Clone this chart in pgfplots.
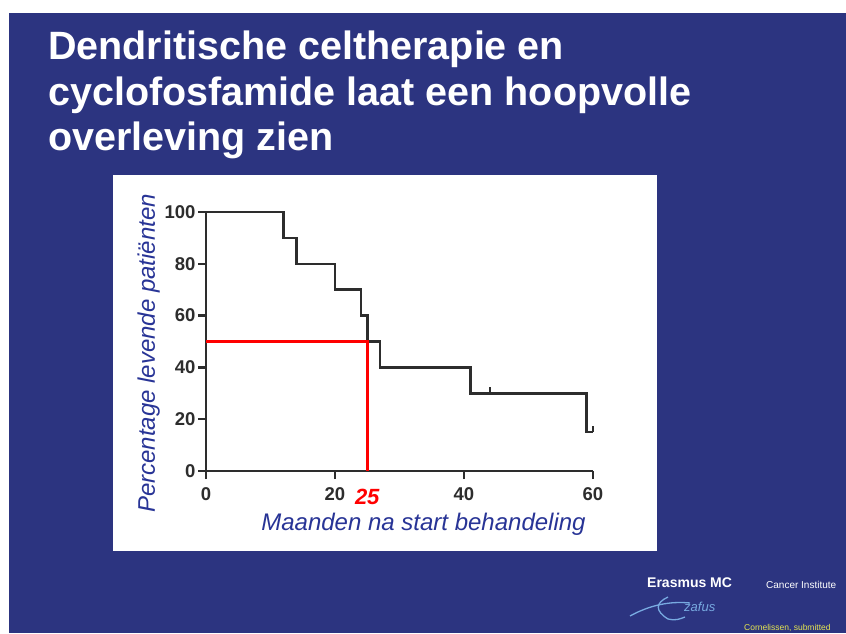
\documentclass[border=0pt]{standalone}
\usepackage{fontspec}
\setmainfont{Liberation Sans}
\usepackage{pgfplots}
\pgfplotsset{compat=1.18}
\definecolor{slideblue}{RGB}{44,52,128}
\definecolor{labelblue}{RGB}{40,52,150}
\definecolor{axgray}{RGB}{45,45,45}
\definecolor{logoblue}{RGB}{120,170,225}
\definecolor{noteyellow}{RGB}{230,230,80}
\begin{document}
\begin{tikzpicture}
\useasboundingbox (0pt,0pt) rectangle (846pt,633pt);
\fill[white] (0pt,0pt) rectangle (846pt,633pt);
\fill[slideblue] (9pt,0pt) rectangle (846pt,620pt);
\fill[white] (113pt,82pt) rectangle (657pt,458pt);
\begin{scope}[every node/.style={anchor=base west, inner sep=0pt, text=white, font=\bfseries\fontsize{39.5}{40}\selectfont}]
\node at (48pt,573pt) {Dendritische celtherapie en};
\node at (48pt,527pt) {cyclofosfamide laat een hoopvolle};
\node at (48pt,482pt) {overleving zien};
\end{scope}
\begin{axis}[
  at={(206pt,162pt)}, anchor=south west,
  scale only axis, width=387pt, height=259pt,
  xmin=0, xmax=60, ymin=0, ymax=100,
  axis x line=bottom, axis y line=left,
  axis line style={-, axgray, line width=2.8pt},
  xtick={0,20,40,60}, ytick={0,20,40,60,80,100},
  tick align=outside, major tick length=8pt,
  tick style={axgray, line width=2.4pt},
  /pgf/number format/assume math mode=true,
  tick label style={font=\bfseries\fontsize{18.5}{19}\selectfont, text=axgray},
  xticklabel style={yshift=-5pt},
  yticklabel style={xshift=1pt},
  extra x ticks={25},
  extra x tick labels={\textcolor{red}{\bfseries\itshape\fontsize{22}{22}\selectfont 25}},
  extra x tick style={major tick length=0pt, xticklabel style={yshift=-10pt}},
  xlabel={Maanden na start behandeling},
  xlabel style={at={(axis description cs:0.562,-0.228)}, anchor=base, font=\itshape\fontsize{24}{24}\selectfont, text=labelblue},
  ylabel={Percentage levende patiënten},
  ylabel style={at={(axis description cs:-0.1318,0.454)}, anchor=base, font=\itshape\fontsize{24}{24}\selectfont, text=labelblue},
  clip=false,
]
\addplot[const plot, color=axgray, line width=2.6pt] coordinates {(0,100)(12,90)(14,80)(20,70)(24,60)(25,50)(27,40)(41,30)(59,15)(60,15)};
\addplot[axgray, line width=2pt] coordinates {(44,30)(44,32.5)};
\addplot[axgray, line width=2pt] coordinates {(60,15)(60,17.5)};
\addplot[red, line width=2.8pt] coordinates {(0,50)(25,50)(25,0)};
\end{axis}
\node[anchor=base west, inner sep=0pt, text=white, font=\bfseries\fontsize{14}{14}\selectfont] at (647pt,46pt) {Erasmus MC};
\node[anchor=base west, inner sep=0pt, text=white, font=\fontsize{10}{10}\selectfont] at (766pt,45pt) {Cancer Institute};
\node[anchor=base west, inner sep=0pt, text=noteyellow, font=\fontsize{8.5}{9}\selectfont] at (744pt,3pt) {Cornelissen, submitted};
\draw[logoblue, line width=1.3pt] (630pt,17pt) .. controls (650pt,28pt) and (670pt,32pt) .. (690pt,30pt);
\draw[logoblue, line width=1.3pt] (668pt,36pt) .. controls (655pt,30pt) and (655pt,22pt) .. (668pt,14pt) .. controls (675pt,12pt) and (680pt,14pt) .. (685pt,16pt);
\node[anchor=base west, inner sep=0pt, text=logoblue, font=\itshape\fontsize{13}{13}\selectfont] at (684pt,22pt) {zafus};
\end{tikzpicture}
\end{document}
